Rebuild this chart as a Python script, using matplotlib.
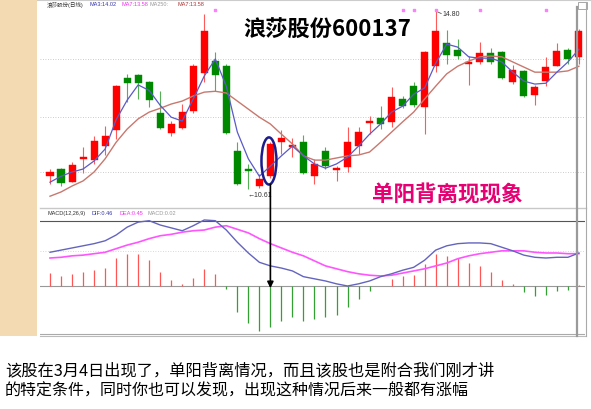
import matplotlib
matplotlib.use('Agg')
import matplotlib.pyplot as plt
from matplotlib.patches import Rectangle, Ellipse, ConnectionPatch
from matplotlib.lines import Line2D

plt.rcParams['font.family'] = ['Noto Sans CJK SC', 'DejaVu Sans']

# ---------------- data ----------------
opens = [10.91, 11.08, 10.77, 11.32, 11.29, 11.62, 12.00, 13.22, 13.29, 13.13,
         12.40, 11.93, 12.04, 12.44, 13.34, 13.62, 13.50, 11.50, 11.06, 10.68,
         10.91, 11.71, 11.60, 11.71, 10.91, 11.50, 11.06, 11.13, 11.62, 12.16,
         12.28, 12.19, 12.73, 13.03, 12.54, 13.50, 14.04, 13.88, 13.55, 13.60,
         13.81, 13.83, 13.13, 13.39, 12.82, 13.15, 13.50, 13.88, 13.72]
closes = [11.01, 10.75, 11.17, 11.36, 11.74, 11.86, 13.03, 13.10, 13.10, 12.70,
          12.04, 12.14, 12.42, 13.50, 14.33, 13.29, 11.93, 10.73, 11.03, 10.84,
          11.67, 11.81, 11.62, 10.98, 11.20, 11.15, 11.08, 11.71, 11.95, 12.21,
          12.14, 12.77, 12.56, 12.59, 13.83, 14.33, 13.76, 13.74, 13.57, 13.81,
          13.60, 13.22, 13.41, 12.80, 13.01, 13.48, 13.86, 13.67, 14.33]
highs = [11.08, 11.10, 11.25, 11.60, 11.86, 12.09, 13.06, 13.32, 13.32, 13.15,
         12.91, 12.21, 12.61, 13.55, 14.73, 13.83, 13.55, 11.71, 11.20, 10.96,
         11.72, 12.00, 11.81, 11.88, 11.32, 11.60, 11.15, 12.07, 12.07, 12.33,
         12.56, 13.01, 12.80, 13.13, 13.86, 14.80, 14.35, 14.14, 13.74, 14.07,
         13.93, 13.86, 13.53, 13.41, 13.06, 13.72, 14.04, 13.93, 14.37]
lows = [10.73, 10.68, 10.77, 10.98, 11.20, 11.41, 11.79, 12.66, 12.73, 12.54,
        12.02, 11.86, 12.02, 12.40, 13.13, 12.91, 11.90, 10.70, 10.61, 10.63,
        10.88, 11.43, 11.36, 10.96, 10.73, 11.08, 10.80, 11.01, 11.43, 11.90,
        12.02, 12.07, 12.51, 12.54, 11.90, 13.36, 13.55, 13.67, 13.06, 13.55,
        13.55, 13.20, 13.08, 12.78, 12.59, 13.03, 13.50, 13.55, 13.55]
ma3 = [10.77, 10.91, 11.01, 11.08, 11.27, 11.55, 12.24, 12.70, 13.06, 12.93,
       12.58, 12.30, 12.21, 12.73, 13.27, 13.67, 13.03, 11.95, 11.32, 10.91,
       11.15, 11.39, 11.62, 11.39, 11.20, 11.10, 11.20, 11.36, 11.62, 11.90,
       12.14, 12.42, 12.56, 12.84, 12.99, 13.57, 14.02, 13.95, 13.72, 13.69,
       13.69, 13.60, 13.36, 13.15, 13.08, 13.10, 13.36, 13.60, 13.90]
ma_slow = [10.44, 10.54, 10.68, 10.80, 11.01, 11.32, 11.71, 12.02, 12.26, 12.42,
           12.51, 12.61, 12.68, 12.80, 12.89, 12.91, 12.87, 12.68, 12.49, 12.30,
           12.14, 11.90, 11.67, 11.39, 11.29, 11.29, 11.34, 11.39, 11.41, 11.48,
           11.71, 11.95, 12.19, 12.42, 12.73, 13.03, 13.32, 13.50, 13.62, 13.72,
           13.74, 13.72, 13.60, 13.48, 13.36, 13.36, 13.36, 13.39, 13.50]
dif = [0.47, 0.50, 0.53, 0.56, 0.59, 0.63, 0.71, 0.82, 0.89, 0.91,
       0.85, 0.81, 0.77, 0.84, 0.92, 0.91, 0.78, 0.61, 0.46, 0.33,
       0.28, 0.25, 0.21, 0.13, 0.10, 0.07, 0.03, 0.00, 0.03, 0.07,
       0.13, 0.17, 0.22, 0.26, 0.36, 0.50, 0.56, 0.59, 0.60, 0.60,
       0.59, 0.54, 0.49, 0.43, 0.40, 0.39, 0.40, 0.40, 0.46]
dea = [0.39, 0.40, 0.42, 0.43, 0.45, 0.47, 0.52, 0.57, 0.61, 0.66,
       0.70, 0.72, 0.75, 0.77, 0.78, 0.82, 0.84, 0.79, 0.74, 0.66,
       0.59, 0.53, 0.47, 0.42, 0.35, 0.28, 0.24, 0.20, 0.17, 0.15,
       0.14, 0.15, 0.18, 0.21, 0.24, 0.28, 0.32, 0.38, 0.42, 0.45,
       0.47, 0.49, 0.49, 0.49, 0.47, 0.46, 0.46, 0.45, 0.45]
macd_hist = [0.18, 0.14, 0.17, 0.20, 0.22, 0.25, 0.39, 0.45, 0.45, 0.36,
             0.20, 0.08, 0.03, 0.11, 0.24, 0.17, -0.04, -0.36, -0.52, -0.63,
             -0.57, -0.49, -0.43, -0.49, -0.46, -0.43, -0.40, -0.29, -0.18, -0.07,
             0.00, 0.10, 0.14, 0.15, 0.31, 0.45, 0.42, 0.39, 0.32, 0.28,
             0.20, 0.08, 0.03, -0.08, -0.14, -0.13, -0.07, -0.06, 0.02]
price_grid = [13.67, 12.30, 11.01]
top_marks = [15, 32, 33, 35, 39, 45]
signal_day = 20

header_parts = [("浪莎股份(日线)", '#333333', 47), ("MA3:14.02", '#3333AA', 89),
                ("MA7:13.58", '#EE33EE', 121), ("MA250:", '#999999', 150),
                ("MA7:13.58", '#AA3333', 178)]
macd_parts = [("MACD(12,26,9)", '#333333', 47), ("DIF:0.46", '#3333AA', 92),
              ("DEA:0.45", '#EE33EE', 120), ("MACD:0.02", '#999999', 147)]
title = "浪莎股份600137"
note = "单阳背离现现象"
caption1 = "该股在3月4日出现了，单阳背离情况，而且该股也是附合我们刚才讲"
caption2 = "的特定条件，同时你也可以发现，出现这种情况后来一般都有涨幅"

# ---------------- figure ----------------
W, H = 591, 410
fig = plt.figure(figsize=(W / 100, H / 100), dpi=100)
fig.patch.set_facecolor('white')


def fx(p):
    return p / W


def fy(p):
    return 1 - p / H


def rect(x0, y0, x1, y1):
    return [fx(x0), fy(y1), (x1 - x0) / W, (y1 - y0) / H]


def fline(x0, y0, x1, y1, **kw):
    fig.add_artist(Line2D([fx(x0), fx(x1)], [fy(y0), fy(y1)],
                          transform=fig.transFigure, **kw))


fig.patches.append(Rectangle((0, fy(337)), fx(37), 1 - fy(337),
                             transform=fig.transFigure, facecolor='#F4DAB3',
                             edgecolor='none', zorder=0))

ax_p = fig.add_axes(rect(40, 8, 585, 205))
ax_m = fig.add_axes(rect(40, 210, 585, 337))
for ax in (ax_p, ax_m):
    ax.axis('off')
    ax.set_xlim(-0.907, 48.55)
ax_p.set_ylim(10.257, 14.894)
ax_m.set_ylim(-0.697, 1.073)

# frame lines
fline(37, 1, 591, 1, color='#CCCCCC', lw=0.8)
fline(40, 209, 586, 209, color='#C8C8C8', lw=1.0)
fline(40, 337, 586, 337, color='#BBBBBB', lw=0.8)
fline(577, 8, 577, 337, color='#9A9A9A', lw=1.6)
fline(586, 3, 586, 337, color='#AAAAAA', lw=0.8)
fig.patches.append(Rectangle((fx(578), fy(10)), 9 / W, 7 / H, transform=fig.transFigure,
                             facecolor='white', edgecolor='#999999', lw=0.6))

for g in price_grid:
    ax_p.axhline(g, color='#BBBBBB', lw=0.6, ls=(0, (1, 2)), zorder=1)

# candles
bw = 0.64
for i in range(len(opens)):
    o, h, l, c = opens[i], highs[i], lows[i], closes[i]
    up = c >= o
    body_col = '#FF0000' if up else '#008800'
    wick_col = '#FF5A5A' if up else '#55B055'
    ax_p.vlines(i, l, h, color=wick_col, lw=0.8, zorder=2)
    bot = min(o, c)
    ht = max(abs(c - o), 0.05)
    ax_p.add_patch(Rectangle((i - bw / 2, bot), bw, ht, facecolor=body_col,
                             edgecolor=body_col, lw=0.3, zorder=2.5))

xs = list(range(len(opens)))
ax_p.plot(xs, ma_slow, color='#C8786E', lw=1.0, zorder=3)
ax_p.plot(xs, ma3, color='#5A5AC8', lw=0.9, zorder=3.2)

ax_p.scatter(top_marks, [14.82] * len(top_marks), marker='s', s=2.5,
             color='#FF80FF', zorder=4, clip_on=False)

# low / high labels
lo_i = lows.index(min(lows))
hi_i = highs.index(max(highs))
ax_p.text(lo_i - 0.05, min(lows) - 0.12, "←" + f"{min(lows):.2f}", fontsize=5,
          color='#333333', ha='left', va='center',
          family=['Liberation Sans', 'DejaVu Sans'])
ax_p.plot([hi_i, hi_i + 0.5], [max(highs), max(highs) - 0.06], color='#555555', lw=0.6)
ax_p.text(hi_i + 0.6, max(highs) - 0.06, f"{max(highs):.2f}", fontsize=5,
          color='#333333', ha='left', va='center', family=['Liberation Sans', 'DejaVu Sans'])

# ellipse around the signal candle
ax_p.add_patch(Ellipse((signal_day - 0.13, 11.27), 1.36, 1.11, fill=False,
                       edgecolor='#1C1C8C', lw=1.8, zorder=5, clip_on=False))

# MACD panel
ax_m.axhline(0.906, color='#555555', lw=0.8)
ax_m.axhline(0.488, color='#CCCCCC', lw=0.6, ls=(0, (1, 2)))
ax_m.axhline(0.0, color='#999999', lw=0.8)
ax_m.axhline(-0.669, color='#AAAAAA', lw=0.8)
hist_cols = ['#FF5555' if v >= 0 else '#33A033' for v in macd_hist]
ax_m.vlines(xs, 0, macd_hist, colors=hist_cols, lw=0.9, zorder=2)
ax_m.plot(xs, dea, color='#FF55FF', lw=1.2, zorder=3)
ax_m.plot(xs, dif, color='#6464BE', lw=1.0, zorder=3.2)

con = ConnectionPatch(xyA=(signal_day, 10.72), coordsA=ax_p.transData,
                      xyB=(signal_day, -0.03), coordsB=ax_m.transData,
                      arrowstyle='-|>', mutation_scale=9, color='black', lw=1.2, zorder=6)
fig.add_artist(con)

# texts
hdr_font = ['Liberation Sans', 'Noto Sans CJK SC']
for txt, col, px in header_parts:
    fig.text(fx(px), fy(5), txt, color=col, fontsize=4.0, va='center', ha='left', family=hdr_font)
for txt, col, px in macd_parts:
    fig.text(fx(px), fy(214), txt, color=col, fontsize=4.0, va='center', ha='left', family=hdr_font)

fig.text(fx(243), fy(30), title, fontsize=16, weight='bold', color='black',
         va='center', ha='left', family=['Noto Sans CJK SC', 'DejaVu Sans'])
fig.text(fx(372), fy(195), note, fontsize=15.5, weight='bold', color='#E60073',
         va='center', ha='left', family=['Noto Sans CJK SC', 'DejaVu Sans'])
fig.text(fx(5), fy(371), caption1, fontsize=11.7, color='black', va='center', ha='left')
fig.text(fx(5), fy(391), caption2, fontsize=11.5, color='black', va='center', ha='left')

fig.savefig('out.png', dpi=100)
